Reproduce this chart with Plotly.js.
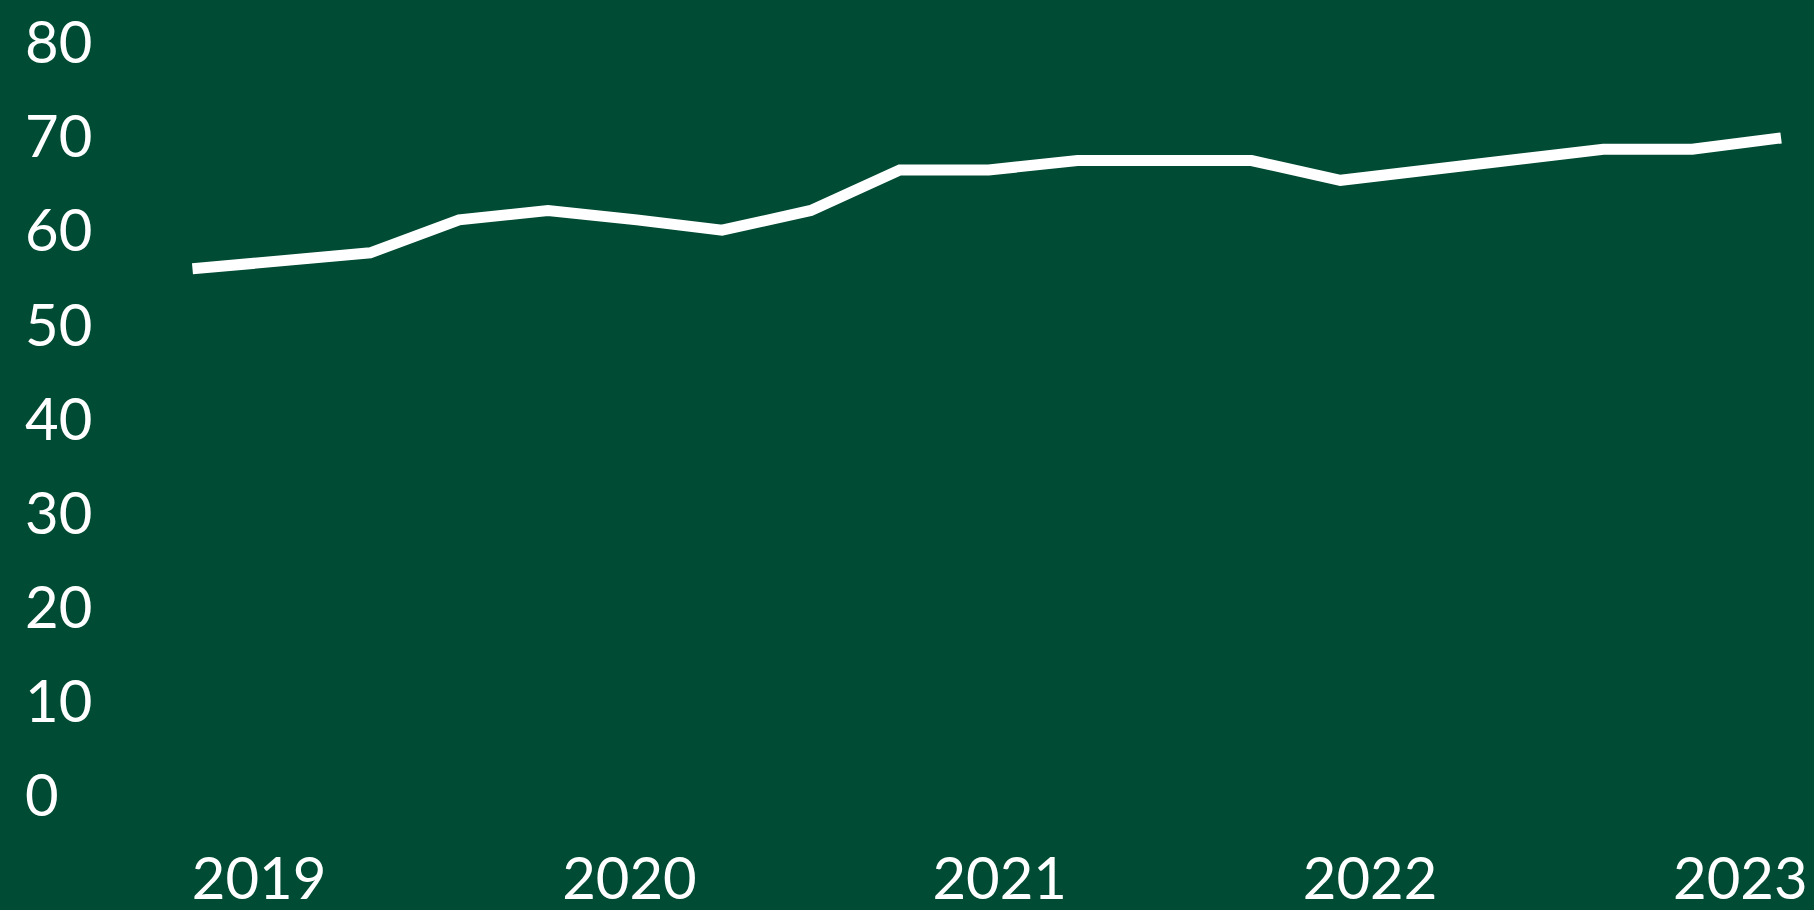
<!DOCTYPE html>
<html>
<head>
<meta charset="utf-8">
<script src="https://cdn.plot.ly/plotly-3.0.1.min.js"></script>
<style>
  html, body { margin: 0; padding: 0; background: #004b33; }
  #chart { width: 1814px; height: 910px; }
</style>
</head>
<body>
<div id="chart"></div>
<script>
const dates = [2018.82, 2019.06, 2019.30, 2019.54, 2019.78, 2020.02, 2020.25, 2020.49,
               2020.73, 2020.97, 2021.21, 2021.44, 2021.68, 2021.92, 2022.16, 2022.40,
               2022.63, 2022.87, 2023.11];
const values = [56.0, 56.8, 57.7, 61.2, 62.2, 61.2, 60.1, 62.2,
                66.5, 66.5, 67.5, 67.5, 67.5, 65.4, 66.5, 67.6,
                68.7, 68.7, 69.9];

const yearTicks = [2019, 2020, 2021, 2022, 2023];
const yearLabels = ['2019', '2020', '2021', '2022', '2023'];
const yTicks = [0, 10, 20, 30, 40, 50, 60, 70, 80];
const yLabels = ['0\u2007', '10', '20', '30', '40', '50', '60', '70', '80'];

const bg = '#004b33';
const font = { family: 'Lato, "Open Sans", sans-serif', size: 58, color: '#ffffff' };

const trace = {
  type: 'scatter',
  mode: 'lines',
  x: dates,
  y: values,
  line: { color: '#ffffff', width: 11 },
  hoverinfo: 'skip'
};

const layout = {
  width: 1814,
  height: 910,
  paper_bgcolor: bg,
  plot_bgcolor: bg,
  showlegend: false,
  margin: { l: 111, r: 7, t: 24, b: 95, pad: 0 },
  font: font,
  xaxis: {
    range: [2018.6, 2023.18],
    tickmode: 'array',
    tickvals: yearTicks,
    ticktext: yearLabels,
    showgrid: false,
    zeroline: false,
    showline: false,
    ticks: 'outside',
    ticklen: 13,
    tickcolor: 'rgba(0,0,0,0)',
    tickfont: font,
    automargin: false,
    fixedrange: true
  },
  yaxis: {
    range: [-2, 82],
    tickmode: 'array',
    tickvals: yTicks,
    ticktext: yLabels,
    showgrid: false,
    zeroline: false,
    showline: false,
    ticks: 'outside',
    ticklen: 6,
    tickcolor: 'rgba(0,0,0,0)',
    tickfont: font,
    automargin: false,
    fixedrange: true
  }
};

Plotly.newPlot('chart', [trace], layout, { displayModeBar: false, staticPlot: true });
</script>
</body>
</html>
